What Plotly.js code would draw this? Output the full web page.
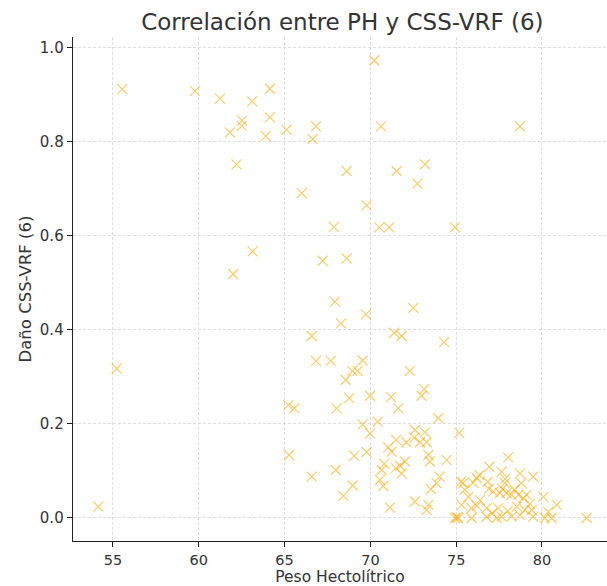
<!DOCTYPE html>
<html>
<head>
<meta charset="utf-8">
<script src="https://cdn.plot.ly/plotly-3.0.1.min.js"></script>
<style>html,body{margin:0;padding:0;background:#fff;}#chart{width:607px;height:586px;}</style>
</head>
<body>
<div id="chart"></div>
<script>
const pesoHectolitrico = [
  55.54, 59.78, 61.24, 63.12, 64.15, 64.15, 62.53, 62.50, 61.82, 63.90,
  65.12, 66.83, 66.64, 62.20, 66.00, 67.88, 63.14, 67.22, 62.00, 70.23,
  70.62, 78.72, 68.62, 71.53, 73.18, 72.74, 69.78, 70.52, 71.10, 74.93,
  68.62, 67.94, 68.29, 69.74, 72.50, 71.39, 71.82, 74.30, 66.58, 66.83,
  67.69, 69.55, 68.95, 69.26, 68.56, 72.30, 73.14, 72.99, 68.77, 69.98,
  71.20, 68.03, 71.63, 55.21, 65.22, 65.57, 65.26, 66.58, 67.98, 54.14,
  73.96, 69.55, 70.43, 69.98, 75.18, 72.60, 73.18, 71.50, 72.10, 72.56,
  72.89, 73.28, 71.04, 71.24, 69.78, 69.06, 73.38, 73.47, 74.45, 70.81,
  72.02, 71.73, 71.48, 70.66, 71.82, 74.03, 70.56, 73.86, 68.97, 70.75,
  73.53, 68.42, 72.60, 73.38, 73.28, 71.14, 75.28, 75.03,
  78.04, 76.93, 77.65, 78.72, 76.35, 75.41, 75.99, 76.83, 77.84, 77.16,
  77.55, 77.94, 78.23, 78.62, 78.91, 75.71, 76.39, 75.32, 75.90, 76.78,
  77.45, 78.53, 74.93, 75.12, 75.90, 76.78, 77.36, 77.65, 78.23, 78.72,
  79.49, 78.80, 79.10, 80.08, 80.86, 80.37, 79.01, 79.40, 79.49, 80.17,
  80.56, 82.60, 76.20, 77.85, 76.20, 77.10, 78.40, 77.70, 76.90, 75.50,
  79.30, 78.00
];
const danoCSS = [
  0.912, 0.908, 0.892, 0.886, 0.913, 0.852, 0.845, 0.834, 0.820, 0.812,
  0.826, 0.833, 0.806, 0.752, 0.691, 0.619, 0.567, 0.547, 0.519, 0.973,
  0.833, 0.833, 0.738, 0.738, 0.752, 0.711, 0.665, 0.618, 0.618, 0.618,
  0.552, 0.460, 0.414, 0.433, 0.447, 0.394, 0.387, 0.374, 0.387, 0.334,
  0.334, 0.335, 0.313, 0.313, 0.294, 0.313, 0.274, 0.260, 0.255, 0.260,
  0.257, 0.233, 0.233, 0.318, 0.240, 0.233, 0.134, 0.088, 0.102, 0.024,
  0.212, 0.199, 0.205, 0.180, 0.181, 0.187, 0.182, 0.166, 0.161, 0.171,
  0.161, 0.161, 0.150, 0.141, 0.140, 0.132, 0.134, 0.120, 0.123, 0.115,
  0.120, 0.111, 0.106, 0.102, 0.095, 0.088, 0.081, 0.074, 0.069, 0.068,
  0.061, 0.047, 0.035, 0.028, 0.017, 0.022, 0.077, 0.001,
  0.129, 0.109, 0.098, 0.095, 0.091, 0.074, 0.075, 0.077, 0.074, 0.056,
  0.053, 0.053, 0.049, 0.049, 0.042, 0.045, 0.038, 0.028, 0.021, 0.021,
  0.021, 0.024, 0.000, 0.000, 0.000, 0.002, 0.000, 0.003, 0.003, 0.006,
  0.088, 0.074, 0.049, 0.045, 0.028, 0.013, 0.017, 0.017, 0.003, 0.000,
  0.000, 0.000, 0.085, 0.083, 0.026, 0.010, 0.060, 0.062, 0.062, 0.060,
  0.030, 0.015
];
const xTicks = [55, 60, 65, 70, 75, 80];
const yTicks = [0.0, 0.2, 0.4, 0.6, 0.8, 1.0];

const font = "DejaVu Sans, sans-serif";
const trace = {
  x: pesoHectolitrico,
  y: danoCSS,
  type: 'scatter',
  mode: 'markers',
  marker: {
    symbol: 'x-thin',
    size: 10,
    color: 'rgba(245,172,20,0.62)',
    line: {color: 'rgba(245,172,20,0.62)', width: 1.2}
  },
  hoverinfo: 'skip'
};
const axisCommon = {
  showgrid: true,
  gridcolor: '#d6d6d6',
  griddash: '3px,2px',
  gridwidth: 0.8,
  zeroline: false,
  showline: true,
  linecolor: '#222',
  linewidth: 1.3,
  ticks: 'outside',
  ticklen: 5,
  tickwidth: 1,
  tickcolor: '#222',
  tickfont: {family: font, size: 15, color: '#333'},
  mirror: false
};
const layout = {
  width: 607,
  height: 586,
  margin: {l: 73, r: 0, t: 37, b: 45},
  paper_bgcolor: '#fff',
  plot_bgcolor: '#fff',
  showlegend: false,
  title: {
    text: 'Correlación entre PH y CSS-VRF (6)',
    font: {family: font, size: 23, color: '#333'},
    xref: 'container', x: 0.564, xanchor: 'center',
    yref: 'container', y: 0.963, yanchor: 'middle'
  },
  xaxis: Object.assign({}, axisCommon, {
    range: [52.67, 83.79],
    tickvals: xTicks,
    ticktext: xTicks.map(String),
    tickfont: {family: font, size: 14.5, color: '#333'},
    title: {text: 'Peso Hectolítrico', font: {family: font, size: 15.5, color: '#333'}, standoff: 8}
  }),
  yaxis: Object.assign({}, axisCommon, {
    range: [-0.049, 1.023],
    tickvals: yTicks,
    ticktext: yTicks.map(v => v.toFixed(1)),
    title: {text: 'Daño CSS-VRF (6)', font: {family: font, size: 16.5, color: '#333'}, standoff: 4}
  })
};
Plotly.newPlot('chart', [trace], layout, {displayModeBar: false, staticPlot: true});
</script>
</body>
</html>
